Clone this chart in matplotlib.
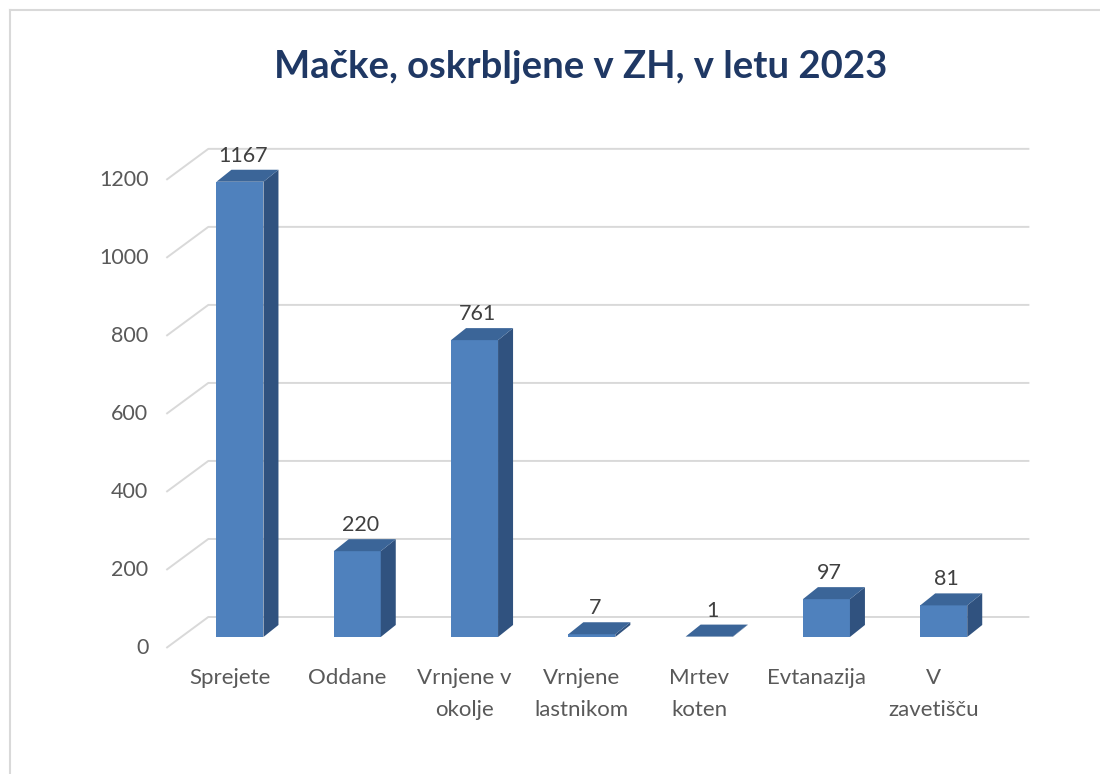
import matplotlib.pyplot as plt
from matplotlib.patches import Polygon
from matplotlib.lines import Line2D

categories = ["Sprejete", "Oddane", "Vrnjene v\nokolje", "Vrnjene\nlastnikom",
              "Mrtev\nkoten", "Evtanazija", "V\nzavetišču"]
values = [1167, 220, 761, 7, 1, 97, 81]
yticks = [0, 200, 400, 600, 800, 1000, 1200]
title = "Mačke, oskrbljene v ZH, v letu 2023"

plt.rcParams['font.family'] = ['Lato', 'DejaVu Sans']

W, H, DPI = 1100, 774, 100
fig = plt.figure(figsize=(W / DPI, H / DPI), dpi=DPI)

# plot box in pixels
L, T, R, B = 150, 140, 1050, 660
ax = fig.add_axes([L / W, 1 - B / H, (R - L) / W, (B - T) / H])
xlim = (-0.767, 6.906)
ylim = (-59, 1274)
ax.set_xlim(*xlim)
ax.set_ylim(*ylim)
ax.axis('off')

# data units per pixel, used for the fake 3d depth
ux = (xlim[1] - xlim[0]) / (R - L)
uy = (ylim[1] - ylim[0]) / (B - T)

grid_c = '#D9D9D9'
front_c, side_c, top_c = '#4F81BD', '#30527F', '#3B6598'
text_c = '#595959'

# gridlines: left wall diagonal + back wall line
x0, x1 = -0.5, len(categories) - 0.5
for t in yticks:
    xs = [x0 - 15 * ux, x0 + 27 * ux, x1 + 27 * ux]
    ys = [t - 11 * uy, t + 20 * uy, t + 20 * uy]
    ax.plot(xs, ys, color=grid_c, lw=1.4, zorder=1, solid_capstyle='butt')
    ax.text(x0 - 33 * ux, t - 11 * uy, str(t), ha='right', va='center',
            fontsize=15.5, color=text_c, clip_on=False)

# bars
w = 47 * ux
dx, dy = 15 * ux, 12 * uy
for i, v in enumerate(values):
    l, r = i - w / 2, i + w / 2
    ax.add_patch(Polygon([(l, 0), (r, 0), (r, v), (l, v)], closed=True,
                         facecolor=front_c, edgecolor='none', zorder=3))
    ax.add_patch(Polygon([(r, 0), (r + dx, dy), (r + dx, v + dy), (r, v)],
                         closed=True, facecolor=side_c, edgecolor='none', zorder=3))
    ax.add_patch(Polygon([(l, v), (l + dx, v + dy), (r + dx, v + dy), (r, v)],
                         closed=True, facecolor=top_c, edgecolor='none', zorder=3))
    ax.text(i + 3 * ux, v + 26 * uy, str(v), ha='center', va='center',
            fontsize=15.5, color='#404040', zorder=4)
    ax.text(i - 10 * ux, -80, categories[i], ha='center', va='top',
            fontsize=16, color=text_c, linespacing=1.75, clip_on=False)

fig.text(581 / W, 1 - 78 / H, title, ha='center', va='baseline',
         fontsize=27.5, fontweight='bold', color='#1F3864')

# chart frame (cut off on the right and bottom)
fig.add_artist(Line2D([10 / W, 10 / W], [0, 1 - 10 / H], color=grid_c, lw=1.5))
fig.add_artist(Line2D([10 / W, 1], [1 - 10 / H, 1 - 10 / H], color=grid_c, lw=1.5))

fig.savefig('out.png', dpi=DPI)
